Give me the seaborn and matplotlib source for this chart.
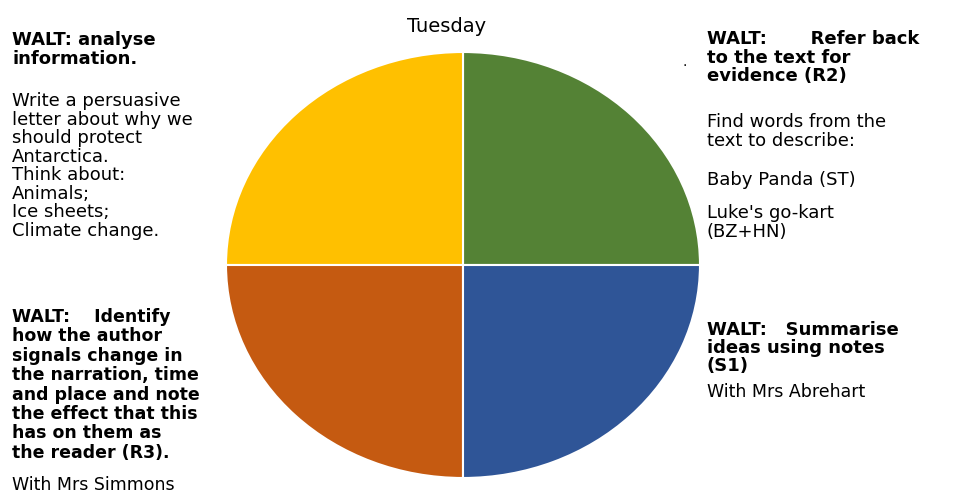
import matplotlib.pyplot as plt
import seaborn as sns

sns.set_theme(style="white")
plt.rcParams['font.family'] = ['DejaVu Sans']

# Quadrants, counter-clockwise from 3 o'clock
quadrantes = ['Comprension R2', 'Escritura', 'Lectura R3', 'Resumen S1']
tamanos = [1, 1, 1, 1]
colores = ['#548235', '#FFC000', '#C55A11', '#2F5597']

titulo = 'Tuesday'
tl_walt = 'WALT: analyse\ninformation.'
tl_texto = ('Write a persuasive\nletter about why we\nshould protect\nAntarctica.\n'
            'Think about:\nAnimals;\nIce sheets;\nClimate change.')
tr_walt = 'WALT:       Refer back\nto the text for\nevidence (R2)'
tr_texto = 'Find words from the\ntext to describe:'
tr_item1 = 'Baby Panda (ST)'
tr_item2 = "Luke's go-kart\n(BZ+HN)"
bl_walt = ('WALT:    Identify\nhow the author\nsignals change in\nthe narration, time\n'
           'and place and note\nthe effect that this\nhas on them as\nthe reader (R3).')
bl_texto = 'With Mrs Simmons'
br_walt = 'WALT:   Summarise\nideas using notes\n(S1)'
br_texto = 'With Mrs Abrehart'

fig = plt.figure(figsize=(9.66, 4.97), dpi=100)
fig.patch.set_facecolor('white')

# elliptical pie: axes placed in figure pixels
W, H = 966, 497
cx, cy, rx, ry = 463, 265, 237, 213
ax = fig.add_axes([(cx - rx) / W, (H - cy - ry) / H, 2 * rx / W, 2 * ry / H])
ax.pie(tamanos, colors=colores, startangle=0, counterclock=True,
       wedgeprops=dict(edgecolor='white', linewidth=1.5))
ax.set_aspect('auto')
ax.set_xlim(-1, 1)
ax.set_ylim(-1, 1)
ax.axis('off')

def txt(x, y, s, bold=False, size=12, ls=1.12):
    fig.text(x / W, 1 - y / H, s, ha='left', va='top', fontsize=size,
             fontweight='bold' if bold else 'normal', color='black',
             linespacing=ls)

fig.text(447 / W, 1 - 27 / H, titulo, ha='center', va='center', fontsize=14,
         color='black')

txt(12, 31, tl_walt, bold=True, size=13, ls=1.05)
txt(12, 92, tl_texto, size=13, ls=1.04)

txt(707, 30, tr_walt, bold=True, size=13, ls=1.05)
fig.text(683 / W, 1 - 66 / H, '.', fontsize=10, color='black')
txt(707, 113, tr_texto, size=13, ls=1.1)
txt(707, 171, tr_item1, size=13)
txt(707, 204, tr_item2, size=13, ls=1.1)

txt(12, 308, bl_walt, bold=True, size=12.5, ls=1.1)
txt(12, 476, bl_texto, size=12.5)

txt(707, 321, br_walt, bold=True, size=13, ls=1.0)
txt(707, 383, br_texto, size=12.5)

plt.savefig('out.png', dpi=100)
plt.close()
